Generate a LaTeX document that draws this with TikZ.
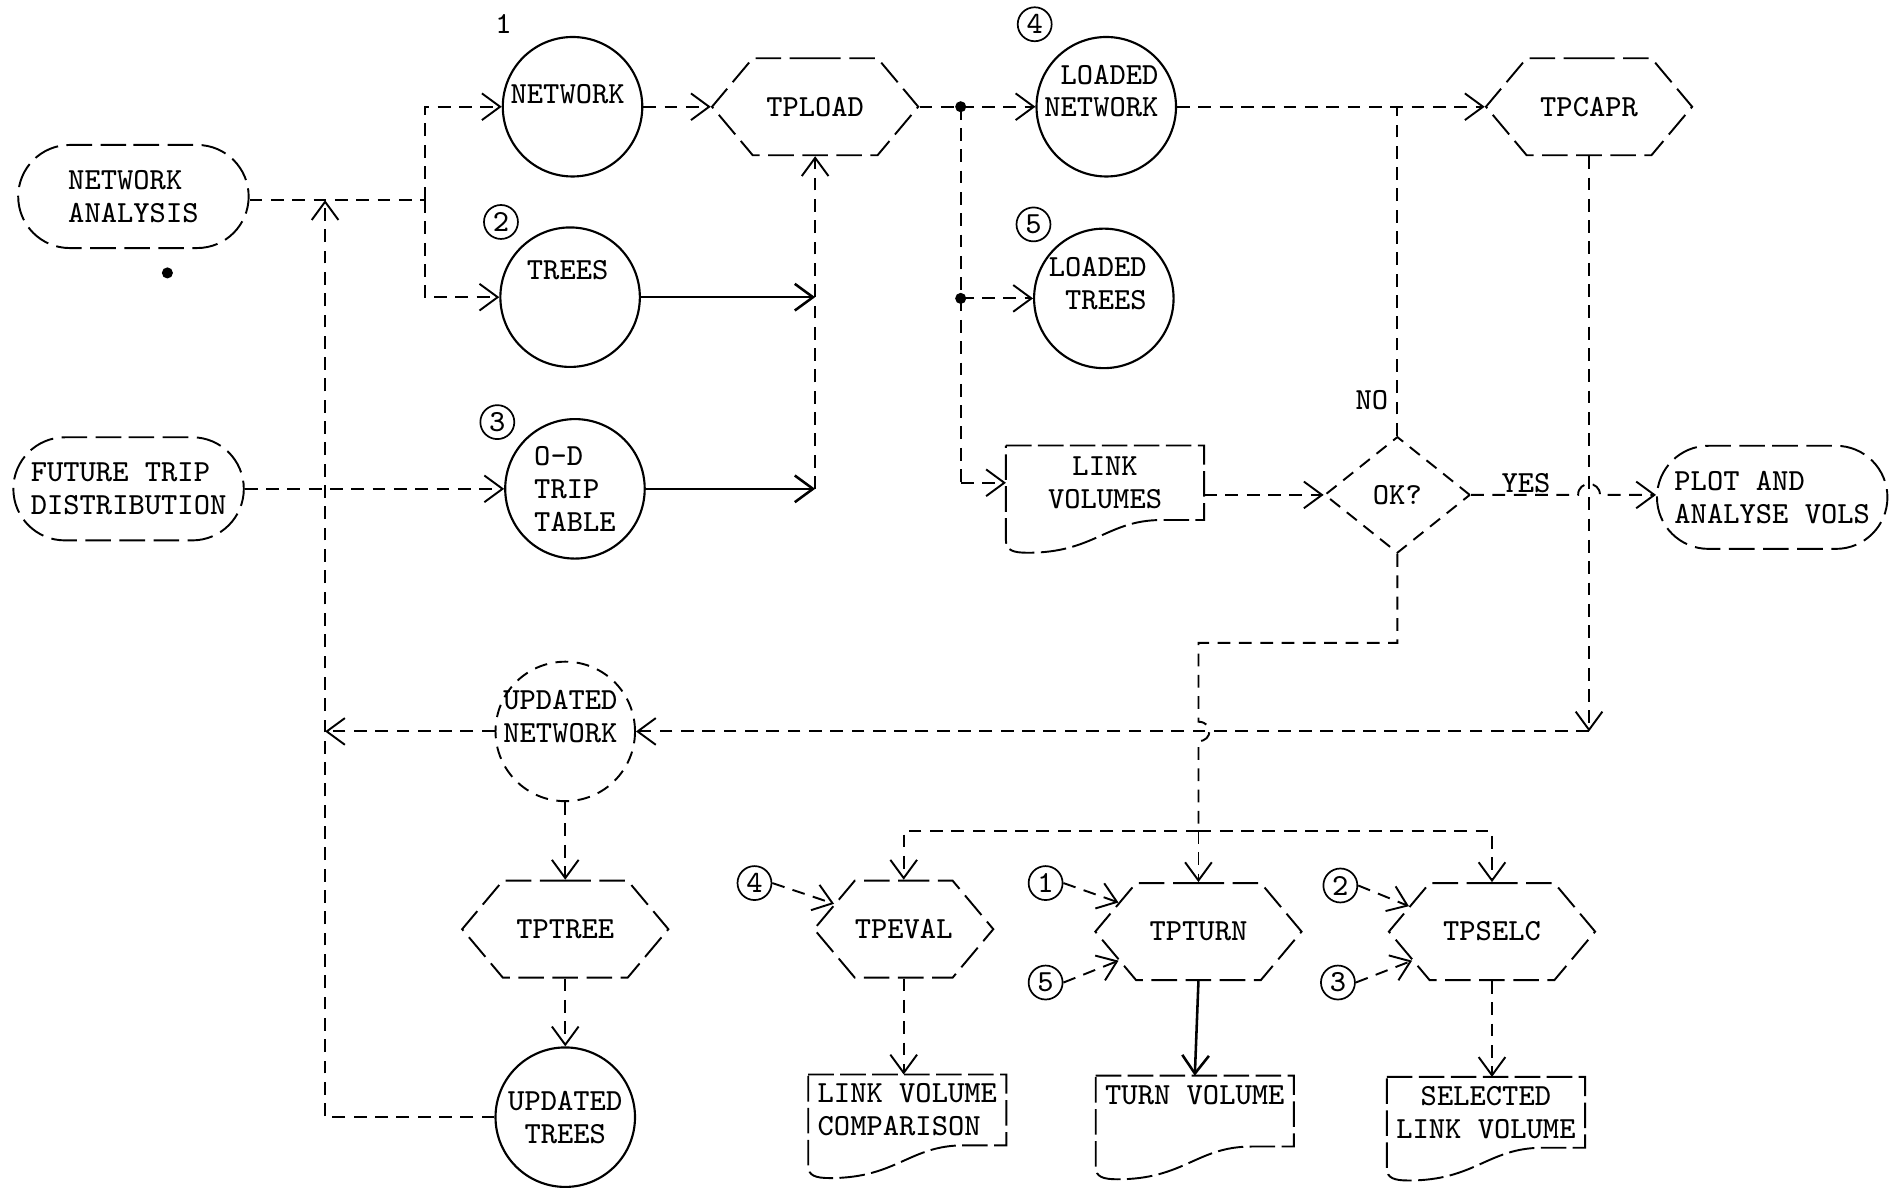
\documentclass[tikz,border=0pt]{standalone}
\usepackage{tikz}
\usetikzlibrary{arrows.meta,calc,positioning,shapes.geometric,shapes.symbols,shapes.misc}

% outline of a printed document: top, right side, wavy bottom
\newcommand{\docoutline}[1]{%
  \draw[docline] (#1.north west) -- (#1.north east) -- (#1.south east)
    -- ++(-35,0) .. controls +(-45,0) and +(55,0) .. ($(#1.south west)+(18,27)$)
    .. controls +(-12,0) and +(0,8) .. ($(#1.south west)+(0,17)$) -- cycle;}

\begin{document}
\begin{tikzpicture}[x=0.1mm,y=-0.1mm,
    >={Straight Barb[length=1.5mm,width=2.2mm]},
    every node/.style={font=\fontsize{7.2}{7.7}\selectfont\ttfamily},
    lbl/.style={inner sep=0pt, align=center},
    faint/.style={line width=0.45pt, dash pattern=on 3pt off 2pt},
    heavy/.style={line width=0.6pt},
    docline/.style={line width=0.45pt, dash pattern=on 6pt off 1.5pt},
    store/.style={circle, draw, line width=0.5pt, minimum size=11.5mm, inner sep=0pt, align=center},
    procbox/.style={signal, signal to=east and west, signal pointer angle=100, draw,
      line width=0.45pt, dash pattern=on 6pt off 2pt, minimum width=17mm, minimum height=8mm, inner sep=0pt},
    termbox/.style={rounded rectangle, draw, line width=0.45pt, dash pattern=on 6pt off 2pt,
      minimum width=19mm, minimum height=8.5mm, inner sep=0pt, align=left},
    docbox/.style={minimum width=16.2mm, minimum height=5.7mm, inner sep=0pt, align=center},
    decide/.style={diamond, draw, faint, minimum width=12mm, minimum height=9.6mm, inner sep=0pt},
    numcirc/.style={circle, draw, line width=0.4pt, minimum size=2.8mm, inner sep=0pt}]
  \useasboundingbox (0,0) rectangle (1568,984);

  % input side
  \node[termbox] (na) at (110,162) {NETWORK\\ANALYSIS};
  \node[termbox] (ftd) at (106,403) {FUTURE TRIP\\DISTRIBUTION};
  \fill (138,225) circle[radius=1.3pt];

  \node[store] (net) at (472,88) {};
  \node[lbl] (net-t) at (468,78) {NETWORK};
  \node[lbl] (n1t) at (415,20) {1};
  \node[store] (trees) at (470,245) {};
  \node[lbl] (trees-t) at (468,223) {TREES};
  \node[numcirc] (n2t) at (413,183) {2};
  \node[store, align=left] (od) at (474,403) {O-D\\TRIP\\TABLE};
  \node[numcirc] (n3t) at (410,348) {3};

  \node[procbox] (tpload) at (672,88) {TPLOAD};

  \coordinate (fb) at (268,165);
  \coordinate (jn) at (350,165);
  \draw[faint] (na.east |- fb) -- (jn);
  \draw[faint,->] (jn) |- (net.west);
  \draw[faint,->] (jn) |- (trees.west);
  \draw[faint,->] (net.east) -- (tpload.west);
  \draw[heavy,->] (trees.east) -- (trees.east -| tpload.south);
  \draw[heavy,->] (od.east) -- (od.east -| tpload.south);
  \draw[faint,->] (od.east -| tpload.south) -- (tpload.south);
  \draw[faint,->] (ftd.east) -- (od.west);

  % loading results
  \node[store] (lnet) at (912,88) {};
  \node[lbl, align=right] (lnet-t) at (908,75) {LOADED\\NETWORK};
  \node[numcirc] (n4t) at (853,20) {4};
  \node[store] (ltree) at (910,246) {};
  \node[lbl, align=right] (ltree-t) at (905,234) {LOADED\\TREES};
  \node[numcirc] (n5t) at (852,185) {5};
  \node[docbox, minimum height=6mm] (lv) at (911,398) {LINK\\VOLUMES};
  \docoutline{lv}

  \coordinate (jl) at (792,88);
  \draw[faint] (tpload.east) -- (jl);
  \draw[faint,->] (jl) -- (lnet.west);
  \draw[faint] (jl) -- (jl |- lv);
  \draw[faint,->] (jl |- lv) -- (lv.west);
  \draw[faint,->] (jl |- ltree) -- (ltree.west);
  \fill (jl) circle[radius=1.3pt];
  \fill (jl |- ltree) circle[radius=1.3pt];

  % check and capacity restraint
  \node[decide] (ok) at (1152,408) {OK?};
  \draw[faint,->] (lv.east |- ok) -- (ok.west);
  \node[procbox] (tpcapr) at (1310,88) {TPCAPR};
  \draw[faint,->] (lnet.east) -- (tpcapr.west);
  \draw[faint] (ok.north) -- (ok.north |- tpcapr.west);
  \node[lbl] (no) at (1131,330) {NO};
  \node[termbox] (plot) at (1461,410) {PLOT AND\\ANALYSE VOLS};
  \draw[faint,->] (ok.east) -- ($(tpcapr.south |- ok.east)+(-9,0)$)
    .. controls +(0,-12) and +(0,-12) .. ($(tpcapr.south |- ok.east)+(9,0)$) -- (plot.west |- ok.east);
  \node[lbl] (yes) at (1258,398) {YES};

  % updated network and trees
  \node[store, faint] (un) at (466,603) {};
  \node[lbl] (un-t) at (462,591) {UPDATED\\NETWORK};
  \coordinate (cu) at (tpcapr.south |- un);
  \draw[faint,->] (tpcapr.south) -- (cu);
  \draw[faint,->] (cu) -- (un.east);
  \draw[faint,->] (un.west) -- (fb |- un);

  \node[procbox] (tptree) at (466,766) {TPTREE};
  \node[store] (ut) at (466,921) {UPDATED\\TREES};
  \draw[faint,->] (un.south) -- (tptree.north);
  \draw[faint,->] (tptree.south) -- (ut.north);
  \draw[faint,->] (ut.west) -- (fb |- ut) -- (fb);

  % evaluation programs
  \node[procbox, minimum width=14.5mm] (tpeval) at (745,766) {TPEVAL};
  \node[procbox] (tpturn) at (988,768) {TPTURN};
  \node[procbox] (tpselc) at (1230,768) {TPSELC};
  \coordinate (dn) at (988,530);
  \coordinate (br) at (988,685);
  \draw[faint] (ok.south) |- (dn) -- ($(dn |- un)+(0,-8)$)
    .. controls +(12,0) and +(12,0) .. ($(dn |- un)+(0,8)$) -- (br);
  \draw[faint,->] (br) -- (tpturn.north);
  \draw[faint,->] (br) -| (tpeval.north);
  \draw[faint,->] (br) -| (tpselc.north);

  \node[numcirc] (n4b) at (622,728) {4};
  \node[numcirc] (n1b) at (862,728) {1};
  \node[numcirc] (n5b) at (862,810) {5};
  \node[numcirc] (n2b) at (1105,730) {2};
  \node[numcirc] (n3b) at (1103,810) {3};
  \draw[faint,->] (n4b.east) -- (tpeval.160);
  \draw[faint,->] (n1b.east) -- (tpturn.160);
  \draw[faint,->] (n5b.east) -- (tpturn.200);
  \draw[faint,->] (n2b.east) -- (tpselc.163);
  \draw[faint,->] (n3b.east) -- (tpselc.200);

  % reports
  \node[docbox, align=left] (lvc) at (748,915) {LINK VOLUME\\COMPARISON};
  \docoutline{lvc}
  \node[docbox] (tv) at (985,916) {TURN VOLUME\\~};
  \docoutline{tv}
  \node[docbox] (slv) at (1225,917) {SELECTED\\LINK VOLUME};
  \docoutline{slv}
  \draw[faint,->] (tpeval.south) -- (tpeval.south |- lvc.north);
  \draw[heavy,->] (tpturn.south) -- (tv.north);
  \draw[faint,->] (tpselc.south) -- (tpselc.south |- slv.north);
\end{tikzpicture}
\end{document}
